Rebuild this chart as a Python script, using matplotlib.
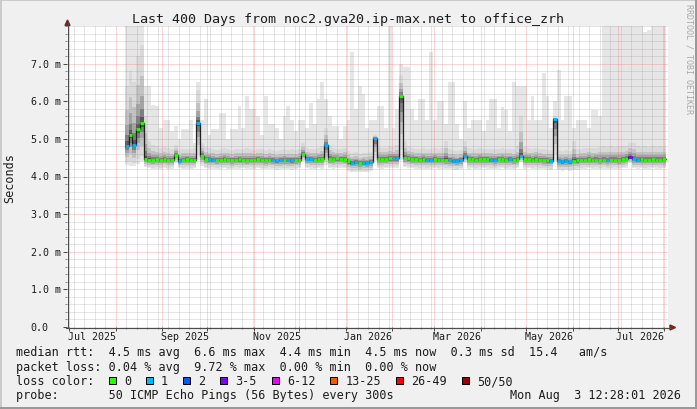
import numpy as np
import matplotlib
matplotlib.use("Agg")
import matplotlib.pyplot as plt
import matplotlib.dates as mdates
from matplotlib import transforms as mtrans
from matplotlib.lines import Line2D
from matplotlib.patches import Rectangle, Polygon
from matplotlib.ticker import FixedLocator, MultipleLocator
from datetime import datetime, timedelta

W, H = 697, 410

# 400 day window ending at the footer timestamp
t_end = datetime(2026, 8, 3, 12, 28, 1)
t_start = t_end - timedelta(days=400)

# consolidated samples, one every 60 h
first_sample = datetime(2025, 8, 7, 2, 0)
step_hours = 60

title = "Last 400 Days from noc2.gva20.ip-max.net to office_zrh"
ylabel = "Seconds"
ytick_values = [0, 1, 2, 3, 4, 5, 6, 7]
ytick_labels = ["0.0", "1.0 m", "2.0 m", "3.0 m", "4.0 m", "5.0 m", "6.0 m", "7.0 m"]
month_labels = ["Jul 2025", "Sep 2025", "Nov 2025", "Jan 2026", "Mar 2026", "May 2026", "Jul 2026"]

# median rtt (ms)
median_ms = [
    4.82, 5.10, 4.85, 5.25, 5.42, 4.46, 4.45, 4.44, 4.46, 4.45, 4.47, 4.45,
    4.44, 4.58, 4.41, 4.45, 4.46, 4.45, 4.44, 5.43, 4.55, 4.47, 4.46, 4.45,
    4.44, 4.45, 4.46, 4.45, 4.44, 4.45, 4.46, 4.45, 4.44, 4.45, 4.45, 4.46,
    4.45, 4.44, 4.45, 4.44, 4.43, 4.43, 4.44, 4.43, 4.43, 4.44, 4.45, 4.60,
    4.47, 4.46, 4.45, 4.46, 4.47, 4.83, 4.47, 4.47, 4.48, 4.47, 4.47, 4.40,
    4.37, 4.38, 4.36, 4.37, 4.36, 4.38, 5.02, 4.46, 4.47, 4.47, 4.48, 4.48,
    4.48, 6.13, 4.49, 4.48, 4.47, 4.46, 4.45, 4.46, 4.45, 4.45, 4.46, 4.45,
    4.45, 4.44, 4.43, 4.42, 4.41, 4.43, 4.55, 4.46, 4.46, 4.45, 4.46, 4.46,
    4.46, 4.45, 4.44, 4.46, 4.46, 4.45, 4.46, 4.44, 4.46, 4.55, 4.46, 4.46,
    4.45, 4.46, 4.45, 4.44, 4.43, 4.42, 5.52, 4.41, 4.40, 4.41, 4.40, 4.42,
    4.43, 4.45, 4.45, 4.46, 4.45, 4.45, 4.44, 4.45, 4.44, 4.45, 4.45, 4.44,
    4.46, 4.47, 4.52, 4.46, 4.45, 4.46, 4.45, 4.45, 4.46, 4.45, 4.45, 4.46,
]

# lost pings out of 50 per sample
loss_pings = [
    1, 0, 1, 0, 0, 0, 0, 0, 0, 0, 0, 0,
    0, 0, 1, 0, 0, 0, 0, 1, 0, 0, 1, 1,
    0, 0, 0, 0, 0, 0, 0, 0, 0, 0, 0, 0,
    0, 0, 0, 1, 1, 1, 0, 1, 1, 0, 0, 0,
    1, 1, 0, 0, 0, 1, 0, 0, 0, 0, 0, 0,
    1, 1, 0, 1, 1, 1, 1, 0, 0, 0, 0, 1,
    1, 0, 0, 0, 0, 0, 0, 0, 1, 1, 0, 0,
    0, 0, 1, 1, 1, 1, 1, 0, 0, 0, 0, 0,
    0, 1, 1, 0, 0, 0, 1, 0, 0, 1, 0, 0,
    0, 0, 0, 0, 0, 1, 1, 1, 1, 1, 1, 0,
    0, 0, 0, 0, 0, 0, 0, 0, 1, 0, 0, 0,
    0, 0, 5, 1, 1, 0, 0, 0, 0, 0, 0, 0,
]

# fastest ping per sample (ms)
min_ms = [
    4.30, 4.28, 4.27, 4.32, 4.40, 4.25, 4.22, 4.20, 4.21, 4.20, 4.22, 4.20,
    4.21, 4.35, 4.22, 4.20, 4.21, 4.20, 4.22, 4.45, 4.28, 4.22, 4.20, 4.21,
    4.20, 4.21, 4.22, 4.20, 4.19, 4.21, 4.20, 4.22, 4.20, 4.21, 4.20, 4.22,
    4.20, 4.19, 4.21, 4.20, 4.18, 4.19, 4.20, 4.19, 4.18, 4.20, 4.22, 4.40,
    4.22, 4.21, 4.20, 4.22, 4.21, 4.30, 4.22, 4.21, 4.22, 4.23, 4.22, 4.15,
    4.12, 4.13, 4.11, 4.12, 4.12, 4.14, 4.40, 4.22, 4.21, 4.22, 4.23, 4.22,
    4.23, 4.45, 4.25, 4.23, 4.22, 4.21, 4.20, 4.21, 4.20, 4.21, 4.22, 4.20,
    4.21, 4.20, 4.19, 4.18, 4.17, 4.19, 4.35, 4.21, 4.22, 4.20, 4.21, 4.22,
    4.21, 4.20, 4.19, 4.21, 4.22, 4.20, 4.21, 4.20, 4.22, 4.38, 4.21, 4.22,
    4.20, 4.21, 4.20, 4.19, 4.18, 4.17, 4.42, 4.16, 4.15, 4.16, 4.15, 4.17,
    4.18, 4.20, 4.21, 4.22, 4.20, 4.21, 4.20, 4.21, 4.19, 4.20, 4.21, 4.20,
    4.22, 4.23, 4.35, 4.22, 4.21, 4.22, 4.20, 4.21, 4.22, 4.21, 4.20, 4.22,
]

# upper edge of the dense part of the smoke (ms)
core_ms = [
    6.40, 6.80, 6.50, 7.20, 7.50, 5.60, 4.95, 4.85, 4.80, 4.75, 4.78, 4.75,
    4.72, 4.85, 4.70, 4.72, 4.74, 4.72, 4.75, 6.30, 4.90, 4.78, 4.75, 4.72,
    4.70, 4.72, 4.75, 4.72, 4.70, 4.72, 4.74, 4.72, 4.75, 4.72, 4.70, 4.74,
    4.72, 4.70, 4.72, 4.70, 4.68, 4.70, 4.72, 4.70, 4.72, 4.70, 4.72, 4.90,
    4.75, 4.74, 4.72, 4.75, 4.80, 5.30, 4.85, 4.75, 4.74, 4.72, 4.75, 4.68,
    4.62, 4.64, 4.60, 4.62, 4.62, 4.66, 5.10, 4.78, 4.75, 4.76, 4.80, 4.78,
    4.85, 6.70, 4.95, 4.80, 4.76, 4.74, 4.72, 4.75, 4.72, 4.74, 4.75, 4.72,
    4.75, 4.95, 4.72, 4.70, 4.68, 4.70, 4.95, 4.75, 4.74, 4.72, 4.75, 4.74,
    4.72, 4.74, 4.72, 4.74, 4.75, 4.72, 4.74, 4.72, 4.80, 5.60, 4.78, 4.75,
    4.74, 4.76, 4.74, 4.72, 4.70, 4.70, 5.60, 4.70, 4.68, 4.70, 4.68, 4.95,
    4.72, 4.74, 4.75, 4.76, 4.75, 4.76, 4.78, 4.80, 4.78, 4.80, 4.78, 4.80,
    4.80, 4.82, 4.90, 4.90, 4.80, 4.78, 4.80, 4.78, 4.80, 4.78, 4.80, 4.78,
]

# slowest ping per sample (ms)
max_ms = [
    8.50, 8.50, 8.50, 8.50, 8.50, 6.40, 6.40, 5.90, 5.87, 5.30, 5.50, 5.50,
    5.20, 5.34, 5.00, 5.25, 5.25, 5.50, 4.90, 6.50, 5.50, 6.05, 5.10, 5.25,
    5.25, 5.70, 5.70, 5.00, 5.25, 5.25, 5.87, 5.30, 6.13, 5.80, 5.80, 5.60,
    5.10, 6.13, 5.40, 5.40, 5.30, 5.00, 5.60, 5.87, 5.50, 5.20, 5.50, 5.50,
    5.30, 5.96, 5.40, 6.05, 6.50, 6.05, 5.60, 5.34, 5.34, 5.00, 5.34, 5.50,
    7.30, 5.80, 6.40, 6.20, 5.30, 5.50, 5.50, 5.87, 5.87, 5.30, 8.20, 5.30,
    5.80, 7.00, 6.90, 6.90, 5.80, 5.50, 6.05, 6.05, 5.50, 7.30, 5.50, 6.00,
    6.00, 5.40, 6.50, 6.50, 5.40, 5.00, 6.00, 5.30, 5.50, 5.50, 5.50, 5.20,
    5.50, 6.05, 6.05, 5.30, 5.85, 5.78, 5.20, 6.50, 6.40, 6.40, 6.40, 5.50,
    6.13, 5.50, 5.50, 6.76, 6.13, 5.30, 6.00, 6.84, 5.50, 6.13, 6.13, 5.30,
    5.50, 5.50, 5.50, 5.30, 5.78, 5.78, 5.60, 8.50, 8.50, 8.50, 8.50, 8.50,
    8.50, 8.50, 8.50, 8.50, 8.50, 8.50, 7.85, 7.90, 8.50, 8.50, 8.50, 8.50,
]

loss_lower = [0, 1, 2, 3, 6, 13, 26, 50]
loss_labels = ["0", "1", "2", "3-5", "6-12", "13-25", "26-49", "50/50"]
loss_colors = ["#26ff00", "#00b8ff", "#0059ff", "#7e00ff", "#ee00ff", "#ff5500", "#ff0000", "#a10000"]

rtt_stats = ["4.5 ms avg", "6.6 ms max", "4.4 ms min", "4.5 ms now", "0.3 ms sd"]
am_s = "15.4"
loss_stats = ["0.04 % avg", "9.72 % max", "0.00 % min", "0.00 % now"]
probe_text = "50 ICMP Echo Pings (56 Bytes) every 300s"
stamp_text = "Mon Aug  3 12:28:01 2026"
watermark = "RRDTOOL / TOBI OETIKER"

MONO = "DejaVu Sans Mono"
plt.rcParams["font.family"] = MONO
FONT_C = "#1c1c1c"

fig = plt.figure(figsize=(W / 100, H / 100), dpi=100, facecolor="#f0f0f0")
left, right, top, bottom = 67, 668, 27, 328
ax = fig.add_axes([left / W, 1 - bottom / H, (right - left) / W, (bottom - top) / H])
ax.set_facecolor("white")
ax.set_xlim(mdates.date2num(t_start), mdates.date2num(t_end))
ax.set_ylim(0, 8.0)
for s in ax.spines.values():
    s.set_visible(False)

# --- smoke ---
n = len(median_ms)
edges = [first_sample + timedelta(hours=step_hours * k) for k in range(n + 1)]
xe = mdates.date2num(edges)
med = np.array(median_ms)
lo = np.array(min_ms)
core = np.array(core_ms)
hi = np.array(max_ms)


def ext(a):
    return np.append(a, a[-1])


ax.fill_between(xe, ext(lo), ext(hi), step="post", color="#e6e6e6", lw=0, zorder=1)
up_frac = [1.0, 0.6, 0.35, 0.18, 0.08]
low_frac = [0.85, 0.6, 0.4, 0.24, 0.1]
shades = ["#d9d9d9", "#c2c2c2", "#a4a4a4", "#7e7e7e", "#565656"]
for k in range(len(shades)):
    ax.fill_between(xe, ext(med - (med - lo) * low_frac[k]), ext(med + (core - med) * up_frac[k]),
                    step="post", color=shades[k], lw=0, zorder=1.1 + k * 0.01)

# --- median line, coloured by loss ---
ax.step(xe, ext(med), where="post", color="#202020", lw=0.9, zorder=3)


def loss_color(c):
    idx = max(k for k, lowb in enumerate(loss_lower) if c >= lowb)
    return loss_colors[idx]


ax.hlines(med, xe[:-1], xe[1:], colors=[loss_color(c) for c in loss_pings], lw=2.0, zorder=4)

# --- grid ---
ax.yaxis.set_major_locator(FixedLocator(ytick_values))
ax.yaxis.set_minor_locator(MultipleLocator(0.2))
ax.xaxis.set_major_locator(mdates.MonthLocator())
ax.xaxis.set_minor_locator(mdates.WeekdayLocator(byweekday=mdates.FR))
ax.set_axisbelow(False)
ax.grid(which="minor", color="#8f8f8f", alpha=0.45, ls=(0, (1, 1)), lw=0.72)
ax.grid(which="major", color="#f45b5b", alpha=0.5, ls=(0, (1, 1)), lw=0.72)
ax.tick_params(which="major", direction="out", length=2.9, width=0.72, color="#4c4c4c",
               labelleft=False, labelbottom=False)
ax.tick_params(which="minor", direction="out", length=1.4, width=0.72, color="#8f8f8f")

# tick labels
ylab_tr = mtrans.blended_transform_factory(ax.transAxes, ax.transData)
for v, lab in zip(ytick_values, ytick_labels):
    dx = -6 if lab.endswith("m") else -18.5
    ax.text(0, v, lab, ha="right", va="center", size=7.2, color=FONT_C,
            transform=mtrans.offset_copy(ylab_tr, fig, x=dx, y=0, units="dots"))

xlab_tr = mtrans.blended_transform_factory(ax.transData, ax.transAxes)
for lab in month_labels:
    d = datetime.strptime(lab, "%b %Y") + timedelta(days=15)
    ax.text(mdates.date2num(d), 0, lab, ha="center", va="center", size=7.2, color=FONT_C,
            transform=mtrans.offset_copy(xlab_tr, fig, x=0, y=-9.5, units="dots"))


def fx(x):
    return x / W


def fy(y):
    return 1 - y / H


# axes lines and arrows
fig.add_artist(Line2D([fx(67.5), fx(67.5)], [fy(329), fy(23)], color="#4c4c4c", lw=0.8,
                      transform=fig.transFigure))
fig.add_artist(Line2D([fx(66), fx(671)], [fy(328.5), fy(328.5)], color="#4c4c4c", lw=0.8,
                      transform=fig.transFigure))
fig.add_artist(Polygon([(fx(65), fy(26.5)), (fx(70), fy(26.5)), (fx(67.5), fy(21))],
                       closed=True, color="#7f1f1f", transform=fig.transFigure))
fig.add_artist(Polygon([(fx(670), fy(326)), (fx(670), fy(331)), (fx(675.5), fy(328.5))],
                       closed=True, color="#7f1f1f", transform=fig.transFigure))

# titles
fig.text(fx(348.5), fy(19), title, ha="center", va="center", size=9.6, color=FONT_C)
fig.text(fx(10), fy(178), ylabel, ha="center", va="center", rotation=90, size=8.5, color=FONT_C)
fig.text(fx(689), fy(4), watermark, ha="center", va="top", rotation=270, size=6, color="#a8a8a8")

# legend
CW = 7.145
x0 = 16
fig.text(fx(x0), fy(353), "median rtt:  " + "  ".join(rtt_stats) + "  " + am_s + "   am/s",
         ha="left", va="center", size=8.5, color=FONT_C)
fig.text(fx(x0), fy(368), "packet loss: " + "  ".join(loss_stats),
         ha="left", va="center", size=8.5, color=FONT_C)
fig.text(fx(x0), fy(382), "loss color:", ha="left", va="center", size=8.5, color=FONT_C)
bx = x0 + 13 * CW
for lab, col in zip(loss_labels, loss_colors):
    fig.add_artist(Rectangle((fx(bx), fy(385)), 7 / W, 7 / H, facecolor=col, edgecolor="black",
                             lw=0.72, transform=fig.transFigure))
    tx = bx + 15
    fig.text(fx(tx), fy(382), lab, ha="left", va="center", size=8.5, color=FONT_C)
    bx = tx + len(lab) * CW + 15
fig.text(fx(x0), fy(396), "probe:       " + probe_text, ha="left", va="center", size=8.5, color=FONT_C)
fig.text(fx(681), fy(396), stamp_text, ha="right", va="center", size=8.5, color=FONT_C)

# 3d-ish image frame
fig.add_artist(Rectangle((0, fy(2)), 1, 2 / H, color="#cbcbcb", lw=0, transform=fig.transFigure))
fig.add_artist(Rectangle((0, 0), 2 / W, 1, color="#cbcbcb", lw=0, transform=fig.transFigure))
fig.add_artist(Rectangle((0, 0), 1, 2 / H, color="#999999", lw=0, transform=fig.transFigure))
fig.add_artist(Rectangle((fx(695), 0), 2 / W, 1, color="#999999", lw=0, transform=fig.transFigure))

fig.savefig("out.png", dpi=100, facecolor=fig.get_facecolor())
